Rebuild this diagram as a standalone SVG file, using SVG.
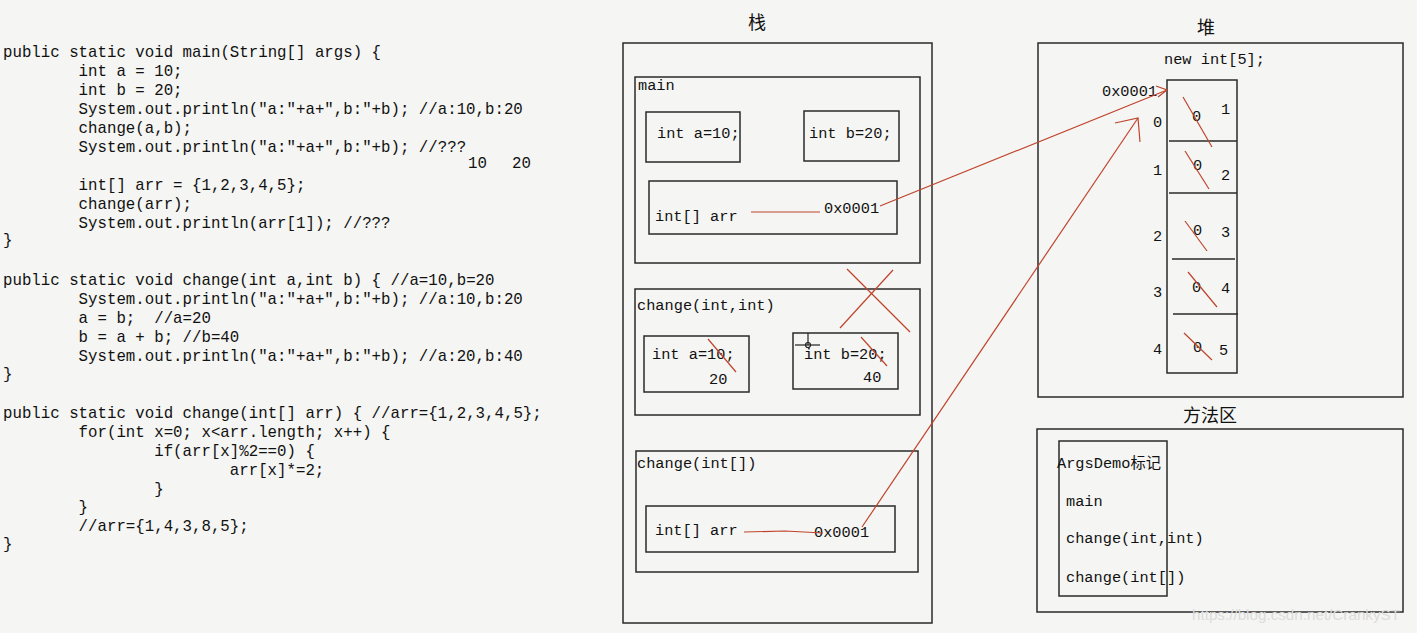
<svg xmlns="http://www.w3.org/2000/svg" width="1417" height="633" viewBox="0 0 1417 633">
<style>
.code{font-family:"Liberation Mono",monospace;font-size:15.75px;fill:#111;white-space:pre}
.lbl{font-family:"Liberation Mono","Noto Sans CJK SC",monospace;font-size:15.3px;fill:#111;white-space:pre}
.cjk{font-family:"Noto Sans CJK SC",sans-serif;font-size:18px;fill:#111;text-anchor:middle}
.box{fill:none;stroke:#2a2a2a;stroke-width:1.5}
.red{fill:none;stroke:#c0442c;stroke-width:1.2}
.wm{font-family:"Liberation Sans",sans-serif;font-size:15px;fill:#dcdcdc}
</style>
<rect width="1417" height="633" fill="#f5f5f3"/>

<g id="code">
<text class="code" x="3" y="57">public static void main(String[] args) {</text>
<text class="code" x="78.6" y="76">int a = 10;</text>
<text class="code" x="78.6" y="95">int b = 20;</text>
<text class="code" x="78.6" y="114">System.out.println("a:"+a+",b:"+b); //a:10,b:20</text>
<text class="code" x="78.6" y="133">change(a,b);</text>
<text class="code" x="78.6" y="152">System.out.println("a:"+a+",b:"+b); //???</text>
<text class="code" x="468" y="168">10</text>
<text class="code" x="512" y="168">20</text>
<text class="code" x="78.6" y="190">int[] arr = {1,2,3,4,5};</text>
<text class="code" x="78.6" y="209">change(arr);</text>
<text class="code" x="78.6" y="228">System.out.println(arr[1]); //???</text>
<text class="code" x="3" y="245">}</text>

<text class="code" x="3" y="285">public static void change(int a,int b) { //a=10,b=20</text>
<text class="code" x="78.6" y="304">System.out.println("a:"+a+",b:"+b); //a:10,b:20</text>
<text class="code" x="78.6" y="323">a = b;  //a=20</text>
<text class="code" x="78.6" y="342">b = a + b; //b=40</text>
<text class="code" x="78.6" y="361">System.out.println("a:"+a+",b:"+b); //a:20,b:40</text>
<text class="code" x="3" y="379">}</text>

<text class="code" x="3" y="418">public static void change(int[] arr) { //arr={1,2,3,4,5};</text>
<text class="code" x="78.6" y="437">for(int x=0; x&lt;arr.length; x++) {</text>
<text class="code" x="154.2" y="456">if(arr[x]%2==0) {</text>
<text class="code" x="229.8" y="475">arr[x]*=2;</text>
<text class="code" x="154.2" y="494">}</text>
<text class="code" x="78.6" y="512">}</text>
<text class="code" x="78.6" y="531">//arr={1,4,3,8,5};</text>
<text class="code" x="3" y="549">}</text>
</g>

<g id="stack">
<text class="cjk" x="757" y="29">栈</text>
<rect class="box" x="623" y="43" width="309" height="580"/>
</g>

<g id="frame-main">
<rect class="box" x="635" y="77" width="285" height="186"/>
<text class="lbl" x="638" y="90">main</text>
<rect class="box" x="646" y="112" width="94" height="50"/>
<text class="lbl" x="657" y="138">int a=10;</text>
<rect class="box" x="804" y="111" width="95" height="50"/>
<text class="lbl" x="809" y="138">int b=20;</text>
<rect class="box" x="649" y="181" width="248" height="53"/>
<text class="lbl" x="655" y="221">int[] arr</text>
<text class="lbl" x="824" y="213">0x0001</text>
</g>

<g id="frame-change-int-int">
<rect class="box" x="635" y="289" width="285" height="126"/>
<text class="lbl" x="637" y="310">change(int,int)</text>
<rect class="box" x="644" y="336" width="105" height="56"/>
<text class="lbl" x="652" y="359">int a=10;</text>
<text class="lbl" x="709" y="384">20</text>
<rect class="box" x="793" y="333" width="105" height="56"/>
<text class="lbl" x="804" y="359">int b=20;</text>
<text class="lbl" x="863" y="382">40</text>
</g>

<g id="frame-change-arr">
<rect class="box" x="636" y="451" width="282" height="121"/>
<text class="lbl" x="637" y="468">change(int[])</text>
<rect class="box" x="646" y="506" width="249" height="46"/>
<text class="lbl" x="655" y="535">int[] arr</text>
<text class="lbl" x="814" y="537">0x0001</text>
</g>

<g id="heap">
<text class="cjk" x="1206" y="34">堆</text>
<rect class="box" x="1038" y="43" width="365" height="354"/>
<text class="lbl" x="1164" y="64">new int[5];</text>
<text class="lbl" x="1102" y="96">0x0001</text>
<rect class="box" x="1167" y="80" width="70" height="293"/>
<line class="box" x1="1169" y1="141" x2="1237" y2="141"/>
<line class="box" x1="1169" y1="193" x2="1237" y2="193"/>
<line class="box" x1="1172" y1="259" x2="1235" y2="259"/>
<line class="box" x1="1173" y1="314" x2="1238" y2="314"/>
<text class="lbl" x="1153" y="127">0</text>
<text class="lbl" x="1153" y="175">1</text>
<text class="lbl" x="1153" y="241">2</text>
<text class="lbl" x="1153" y="297">3</text>
<text class="lbl" x="1153" y="354">4</text>
<text class="lbl" x="1192" y="121">0</text>
<text class="lbl" x="1221" y="114">1</text>
<text class="lbl" x="1193" y="170">0</text>
<text class="lbl" x="1221" y="180">2</text>
<text class="lbl" x="1193" y="235">0</text>
<text class="lbl" x="1221" y="237">3</text>
<text class="lbl" x="1192" y="292">0</text>
<text class="lbl" x="1221" y="293">4</text>
<text class="lbl" x="1193" y="352">0</text>
<text class="lbl" x="1219" y="355">5</text>
</g>

<g id="method-area">
<text class="cjk" x="1210" y="422">方法区</text>
<rect class="box" x="1037" y="429" width="366" height="183"/>
<rect class="box" x="1059" y="441" width="108" height="155"/>
<text class="lbl" x="1057" y="468">ArgsDemo标记</text>
<text class="lbl" x="1066" y="506">main</text>
<text class="lbl" x="1066" y="543">change(int,int)</text>
<text class="lbl" x="1066" y="582">change(int[])</text>
<text class="wm" x="1192" y="620" textLength="208" lengthAdjust="spacingAndGlyphs">https://blog.csdn.net/CrankyST</text>
</g>

<g id="connectors">
<line class="red" x1="751" y1="212" x2="820" y2="212"/>
<line class="red" x1="880" y1="206" x2="1167" y2="90"/>
<polyline class="red" points="1156,86 1167,90 1158,97"/>
<polyline class="red" points="744,532 785,531 823,533"/>
<line class="red" x1="862" y1="527" x2="1138" y2="118"/>
<polyline class="red" points="1115,123 1138,118 1140,142"/>
</g>

<g id="annotations">
<line class="red" x1="708" y1="339" x2="736" y2="372"/>
<line class="red" x1="861" y1="337" x2="887" y2="366"/>
<line class="red" x1="847" y1="269" x2="910" y2="332"/>
<line class="red" x1="893" y1="270" x2="840" y2="328"/>
<line class="red" x1="1183" y1="97" x2="1212" y2="147"/>
<line class="red" x1="1185" y1="151" x2="1209" y2="189"/>
<line class="red" x1="1185" y1="221" x2="1207" y2="251"/>
<line class="red" x1="1188" y1="272" x2="1217" y2="307"/>
<line class="red" x1="1184" y1="333" x2="1212" y2="360"/>
<g stroke="#222" stroke-width="1.2" fill="none">
<line x1="795" y1="345" x2="820" y2="345"/>
<line x1="808" y1="333" x2="808" y2="345"/>
<circle cx="808" cy="345" r="2.5"/>
</g>
</g>
</svg>
